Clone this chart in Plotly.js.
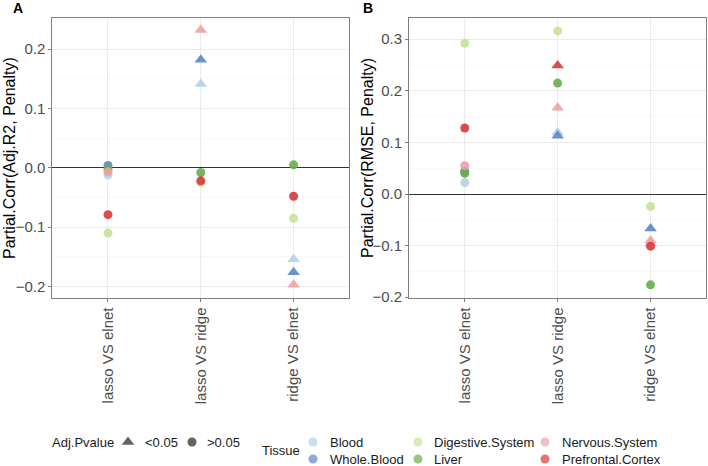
<!DOCTYPE html>
<html>
<head>
<meta charset="utf-8">
<script src="https://cdn.plot.ly/plotly-3.0.1.min.js"></script>
<style>html,body{margin:0;padding:0;background:#fff;}#chart{width:708px;height:466px;}</style>
</head>
<body>
<div id="chart"></div>
<script>
// ---------------- data ----------------
const comparisons = ["lasso VS elnet", "lasso VS ridge", "ridge VS elnet"];
const tissues = ["Blood", "Whole.Blood", "Digestive.System", "Liver", "Nervous.System", "Prefrontal.Cortex"];

// Panel A: Partial.Corr(Adj.R2, Penalty)
const adjR2_Blood      = [-0.012, 0.141, -0.154];
const adjR2_WholeBlood = [ 0.004, 0.182, -0.176];
const adjR2_Digestive  = [-0.110, -0.025, -0.085];
const adjR2_Liver      = [-0.002, -0.008, 0.005];
const adjR2_Nervous    = [-0.007, 0.232, -0.197];
const adjR2_Prefrontal = [-0.079, -0.022, -0.048];
const adjR2_p_Blood      = [">0.05", "<0.05", "<0.05"];
const adjR2_p_WholeBlood = [">0.05", "<0.05", "<0.05"];
const adjR2_p_Digestive  = [">0.05", ">0.05", ">0.05"];
const adjR2_p_Liver      = [">0.05", ">0.05", ">0.05"];
const adjR2_p_Nervous    = [">0.05", "<0.05", "<0.05"];
const adjR2_p_Prefrontal = [">0.05", ">0.05", ">0.05"];

// Panel B: Partial.Corr(RMSE, Penalty)
const rmse_Blood      = [0.022, 0.119, -0.096];
const rmse_WholeBlood = [0.044, 0.113, -0.067];
const rmse_Digestive  = [0.292, 0.316, -0.024];
const rmse_Liver      = [0.040, 0.215, -0.176];
const rmse_Nervous    = [0.055, 0.167, -0.090];
const rmse_Prefrontal = [0.128, 0.249, -0.101];
const rmse_p_Blood      = [">0.05", "<0.05", "<0.05"];
const rmse_p_WholeBlood = [">0.05", "<0.05", "<0.05"];
const rmse_p_Digestive  = [">0.05", ">0.05", ">0.05"];
const rmse_p_Liver      = [">0.05", ">0.05", ">0.05"];
const rmse_p_Nervous    = [">0.05", "<0.05", "<0.05"];
const rmse_p_Prefrontal = [">0.05", "<0.05", ">0.05"];

const pvalueLevels = ["<0.05", ">0.05"];

// ---------------- styles ----------------
const tissueColors = {
  "Blood": "#b3d0ea",
  "Whole.Blood": "#5b87c4",
  "Digestive.System": "#c6e29b",
  "Liver": "#69ad4a",
  "Nervous.System": "#eea2a4",
  "Prefrontal.Cortex": "#d8393c"
};
const symbolOf = {"<0.05": "triangle-up", ">0.05": "circle"};
const sizeOf = {"<0.05": 11, ">0.05": 9};
const FONT = "Liberation Sans, Arial, Helvetica, sans-serif";

const panelA = [adjR2_Blood, adjR2_WholeBlood, adjR2_Digestive, adjR2_Liver, adjR2_Nervous, adjR2_Prefrontal];
const panelAp = [adjR2_p_Blood, adjR2_p_WholeBlood, adjR2_p_Digestive, adjR2_p_Liver, adjR2_p_Nervous, adjR2_p_Prefrontal];
const panelB = [rmse_Blood, rmse_WholeBlood, rmse_Digestive, rmse_Liver, rmse_Nervous, rmse_Prefrontal];
const panelBp = [rmse_p_Blood, rmse_p_WholeBlood, rmse_p_Digestive, rmse_p_Liver, rmse_p_Nervous, rmse_p_Prefrontal];

const traces = [];
function addPanel(vals, pv, xa, ya) {
  tissues.forEach((t, i) => {
    traces.push({
      type: "scatter", mode: "markers",
      x: comparisons, y: vals[i],
      xaxis: xa, yaxis: ya,
      name: t, showlegend: false, hoverinfo: "skip",
      marker: {
        color: tissueColors[t], opacity: 0.9,
        symbol: pv[i].map(p => symbolOf[p]),
        size: pv[i].map(p => sizeOf[p]),
        line: {width: 0}
      }
    });
  });
}
addPanel(panelA, panelAp, "x", "y");
addPanel(panelB, panelBp, "x2", "y2");

// ---------------- legend (drawn on a pixel-space overlay axis) ----------------
const legRow1 = 442, legRow2 = 459;
const legKeys = {
  x: [128, 192, 313, 313, 418, 418, 545, 545],
  y: [legRow1, legRow1, legRow1, legRow2, legRow1, legRow2, legRow1, legRow2],
  color: ["#222222", "#222222"].concat(tissues.map(t => tissueColors[t])),
  symbol: [symbolOf["<0.05"], symbolOf[">0.05"], "circle", "circle", "circle", "circle", "circle", "circle"],
  size: [11, 9, 9, 9, 9, 9, 9, 9]
};
traces.push({
  type: "scatter", mode: "markers", xaxis: "x3", yaxis: "y3",
  x: legKeys.x, y: legKeys.y, showlegend: false, hoverinfo: "skip",
  marker: {color: legKeys.color, symbol: legKeys.symbol, size: legKeys.size, line: {width: 0}}
});

const legTexts = [
  {text: "Adj.Pvalue", x: 50, y: legRow1},
  {text: pvalueLevels[0], x: 143, y: legRow1},
  {text: pvalueLevels[1], x: 205, y: legRow1},
  {text: "Tissue", x: 260, y: (legRow1 + legRow2) / 2},
  {text: tissues[0], x: 328, y: legRow1},
  {text: tissues[1], x: 328, y: legRow2},
  {text: tissues[2], x: 432, y: legRow1},
  {text: tissues[3], x: 432, y: legRow2},
  {text: tissues[4], x: 560, y: legRow1},
  {text: tissues[5], x: 560, y: legRow2}
];

const annotations = legTexts.map(a => ({
  xref: "x3", yref: "y3", x: a.x, y: a.y, text: a.text, showarrow: false,
  xanchor: "left", yanchor: "middle", font: {family: FONT, size: 13, color: "#1a1a1a"}
}));
annotations.push(
  {xref: "paper", yref: "paper", x: 18/708, y: 1 - 8/466, text: "<b>A</b>", showarrow: false,
   xanchor: "center", yanchor: "middle", font: {family: FONT, size: 14, color: "#000"}},
  {xref: "paper", yref: "paper", x: 368/708, y: 1 - 8/466, text: "<b>B</b>", showarrow: false,
   xanchor: "center", yanchor: "middle", font: {family: FONT, size: 14, color: "#000"}},
  {xref: "paper", yref: "paper", x: 10/708, y: 1 - 158/466, text: "Partial.Corr(Adj.R2, Penalty)",
   textangle: -90, showarrow: false, xanchor: "center", yanchor: "middle",
   font: {family: FONT, size: 16, color: "#000"}},
  {xref: "paper", yref: "paper", x: 368/708, y: 1 - 158/466, text: "Partial.Corr(RMSE, Penalty)",
   textangle: -90, showarrow: false, xanchor: "center", yanchor: "middle",
   font: {family: FONT, size: 16, color: "#000"}}
);

const yTop = 1 - 18.3/466, yBot = 1 - 297.5/466;
function xAxis(domain) {
  return {
    domain: domain, type: "category", categoryorder: "array", categoryarray: comparisons,
    range: [-0.6, 2.6], tickangle: -90, showgrid: true, gridcolor: "#ebebeb", gridwidth: 1,
    showline: true, mirror: true, linecolor: "#7f7f7f", linewidth: 1,
    ticks: "outside", ticklen: 3, tickcolor: "#7f7f7f", zeroline: false,
    tickfont: {family: FONT, size: 15, color: "#4d4d4d"}, automargin: false, fixedrange: true
  };
}
function yAxis(range, anchor) {
  return {
    domain: [yBot, yTop], anchor: anchor, range: range, dtick: 0.1, tick0: 0, tickformat: ".1f",
    showgrid: true, gridcolor: "#ebebeb", gridwidth: 1,
    minor: {dtick: 0.05, tick0: 0, showgrid: true, gridcolor: "#f4f4f4", gridwidth: 0.6, ticks: ""},
    showline: true, mirror: true, linecolor: "#7f7f7f", linewidth: 1,
    ticks: "outside", ticklen: 3, tickcolor: "#7f7f7f",
    zeroline: true, zerolinecolor: "#333333", zerolinewidth: 1,
    tickfont: {family: FONT, size: 15, color: "#4d4d4d"}, automargin: false, fixedrange: true
  };
}

const layout = {
  width: 708, height: 466,
  margin: {l: 0, r: 0, t: 0, b: 0},
  paper_bgcolor: "#ffffff", plot_bgcolor: "rgba(0,0,0,0)",
  showlegend: false,
  xaxis: Object.assign(xAxis([52.3/708, 349.3/708]), {anchor: "y"}),
  yaxis: yAxis([-0.2186, 0.2519], "x"),
  xaxis2: Object.assign(xAxis([409/708, 706.3/708]), {anchor: "y2"}),
  yaxis2: yAxis([-0.2005, 0.3405], "x2"),
  xaxis3: {domain: [0, 1], range: [0, 708], visible: false, showgrid: false, zeroline: false, anchor: "y3", fixedrange: true},
  yaxis3: {domain: [0, 1], range: [466, 0], visible: false, showgrid: false, zeroline: false, anchor: "x3", fixedrange: true},
  annotations: annotations,
  font: {family: FONT}
};

Plotly.newPlot("chart", traces, layout, {displayModeBar: false, staticPlot: true});
</script>
</body>
</html>
